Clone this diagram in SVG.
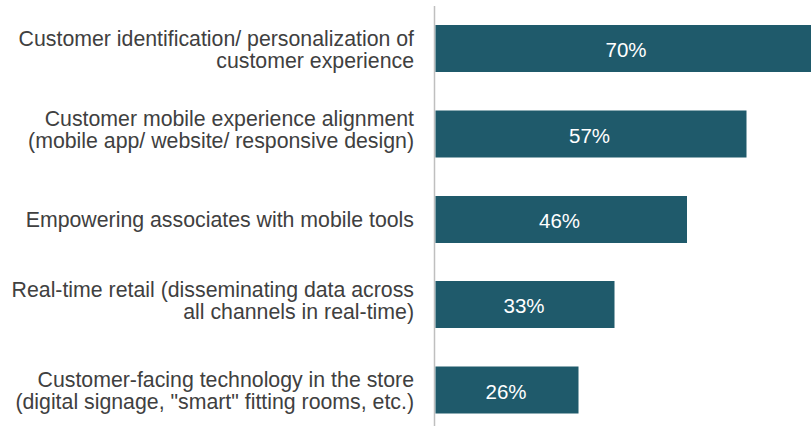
<svg xmlns="http://www.w3.org/2000/svg" width="811" height="426" viewBox="0 0 811 426">
<style>
.lbl{font-family:"Liberation Sans",Arial,sans-serif;font-size:21.3px;fill:#404040;text-anchor:end}
.val{font-family:"Liberation Sans",Arial,sans-serif;font-size:20.5px;fill:#ffffff;text-anchor:middle}
.bar{fill:#1f5a6b}
</style>
<rect width="811" height="426" fill="#ffffff"/>
<g id="axis">
<line x1="434.5" y1="6" x2="434.5" y2="426" stroke="#bfbfbf" stroke-width="1.5"/>
</g>
<g id="row1">
<rect class="bar" x="435.5" y="25" width="376" height="47"/>
<text class="val" x="626" y="57">70%</text>
<text class="lbl" x="414" y="46">Customer identification/ personalization of</text>
<text class="lbl" x="414" y="68">customer experience</text>
</g>
<g id="row2">
<rect class="bar" x="435.5" y="110.5" width="311" height="47"/>
<text class="val" x="589.5" y="143">57%</text>
<text class="lbl" x="414" y="126">Customer mobile experience alignment</text>
<text class="lbl" x="414" y="148">(mobile app/ website/ responsive design)</text>
</g>
<g id="row3">
<rect class="bar" x="435.5" y="196" width="251.5" height="47"/>
<text class="val" x="559.5" y="228">46%</text>
<text class="lbl" x="414" y="227">Empowering associates with mobile tools</text>
</g>
<g id="row4">
<rect class="bar" x="435.5" y="281" width="179" height="47"/>
<text class="val" x="524" y="313">33%</text>
<text class="lbl" x="414" y="297">Real-time retail (disseminating data across</text>
<text class="lbl" x="414" y="319">all channels in real-time)</text>
</g>
<g id="row5">
<rect class="bar" x="435.5" y="366.5" width="143" height="47"/>
<text class="val" x="506" y="399">26%</text>
<text class="lbl" x="414" y="387">Customer-facing technology in the store</text>
<text class="lbl" x="414" y="409">(digital signage, "smart" fitting rooms, etc.)</text>
</g>
</svg>
